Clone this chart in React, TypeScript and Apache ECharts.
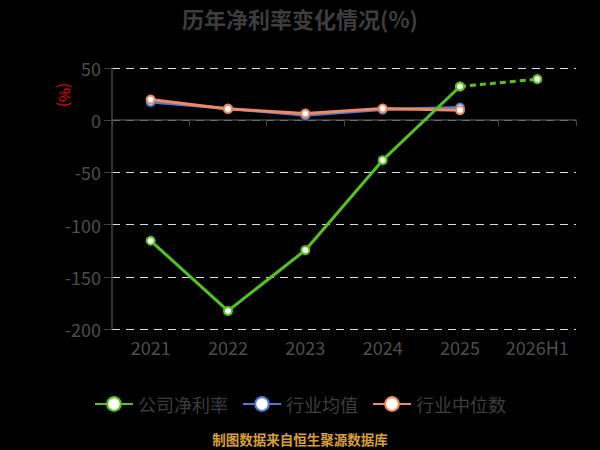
import React, { useEffect, useRef } from "react";
import * as echarts from "echarts";

const categories = ["2021", "2022", "2023", "2024", "2025", "2026H1"];
const companyValues = [-115.5, -182.7, -124.5, -38.3, 32.3, null];
const companyForecast = [null, null, null, null, 32.3, 39.3];
const industryAvg = [17.5, 11.2, 4.8, 10.2, 12.2, null];
const industryMedian = [19.8, 10.8, 6.4, 11.2, 9.6, null];
const yTicks = { min: -200, max: 50, interval: 50 };

const GREEN = "#52c41a";
const BLUE = "#4a7bd8";
const ORANGE = "#f4875b";
const FONT = "'Noto Sans CJK SC', 'Noto Sans', sans-serif";

export default function App() {
  const ref = useRef<HTMLDivElement>(null);
  useEffect(() => {
    if (!ref.current) return;
    const chart = echarts.init(ref.current, null, { renderer: "svg" });
    const sym = { symbol: "circle", symbolSize: 8 };
    chart.setOption({
      animation: false,
      backgroundColor: "#000",
      textStyle: { fontFamily: FONT },
      title: {
        text: "历年净利率变化情况(%)",
        left: "center",
        top: 2,
        textStyle: { color: "#3d3d3d", fontSize: 22, fontWeight: "bold", fontFamily: FONT },
      },
      legend: {
        bottom: 32,
        left: "center",
        itemWidth: 38,
        itemHeight: 17,
        itemGap: 14,
        textStyle: { color: "#3d3d3d", fontSize: 18, fontFamily: FONT },
        data: [
          { name: "公司净利率", itemStyle: { color: "#fff", borderColor: GREEN, borderWidth: 2 } },
          { name: "行业均值", itemStyle: { color: "#fff", borderColor: BLUE, borderWidth: 2 } },
          { name: "行业中位数", itemStyle: { color: "#fff", borderColor: ORANGE, borderWidth: 2 } },
        ],
      },
      grid: { left: 112, right: 24, top: 68, bottom: 121 },
      xAxis: [
        {
          type: "category",
          data: categories,
          boundaryGap: true,
          axisLine: { show: false, onZero: false },
          axisTick: { show: false },
          axisLabel: { color: "#4d4d4d", fontSize: 18, margin: 9, interval: 0, fontFamily: FONT },
        },
        {
          type: "category",
          data: categories,
          boundaryGap: true,
          position: "bottom",
          axisLine: { show: true, onZero: true, lineStyle: { color: "#444", width: 1.5 } },
          axisTick: { show: true, length: 6, interval: 0, lineStyle: { color: "#444" } },
          axisLabel: { show: false },
        },
      ],
      yAxis: {
        type: "value",
        min: yTicks.min,
        max: yTicks.max,
        interval: yTicks.interval,
        axisLine: { show: true, lineStyle: { color: "#444", width: 1.5 } },
        axisTick: { show: true, length: 8, lineStyle: { color: "#444" } },
        axisLabel: { color: "#4d4d4d", fontSize: 18, margin: 11, fontFamily: FONT },
        splitLine: { show: true, lineStyle: { color: "#ddd", type: [8, 6], width: 1.2 } },
      },
      graphic: [
        {
          type: "text",
          x: 65,
          y: 95,
          rotation: -Math.PI / 2,
          style: { text: "(%)", fill: "#ff0000", fontSize: 15, fontFamily: FONT, align: "center", verticalAlign: "middle" },
        },
        {
          type: "text",
          left: "center",
          top: 432,
          style: { text: "制图数据来自恒生聚源数据库", fill: "#d9a030", fontSize: 13.5, fontWeight: "bold", fontFamily: FONT },
        },
      ],
      series: [
        {
          name: "公司净利率",
          type: "line",
          data: companyValues,
          ...sym,
          lineStyle: { color: GREEN, width: 3 },
          itemStyle: { color: "#fff", borderColor: GREEN, borderWidth: 2 },
          z: 3,
        },
        {
          name: "公司净利率",
          type: "line",
          data: companyForecast,
          ...sym,
          lineStyle: { color: GREEN, width: 3, type: [6, 4] },
          itemStyle: { color: "#fff", borderColor: GREEN, borderWidth: 2 },
          z: 3,
        },
        {
          name: "行业均值",
          type: "line",
          data: industryAvg,
          ...sym,
          lineStyle: { color: BLUE, width: 3 },
          itemStyle: { color: "#fff", borderColor: BLUE, borderWidth: 2 },
          z: 2,
        },
        {
          name: "行业中位数",
          type: "line",
          data: industryMedian,
          ...sym,
          lineStyle: { color: ORANGE, width: 3 },
          itemStyle: { color: "#fff", borderColor: ORANGE, borderWidth: 2 },
          z: 2,
        },
      ],
    });
    return () => chart.dispose();
  }, []);
  return <div ref={ref} style={{ width: 600, height: 450, position: "absolute", left: 0, top: 0 }} />;
}
